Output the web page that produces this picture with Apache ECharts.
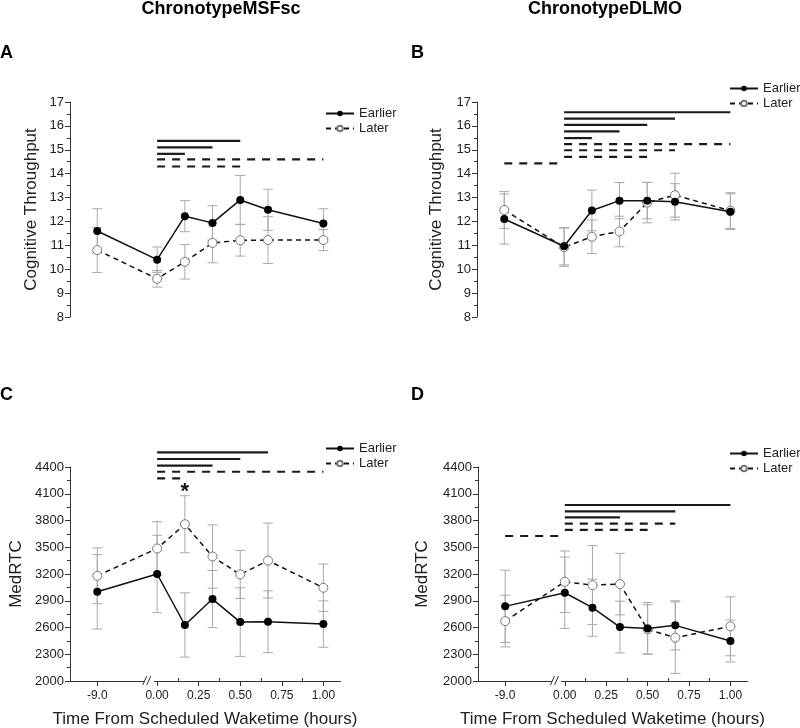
<!DOCTYPE html>
<html>
<head>
<meta charset="utf-8">
<script src="https://cdn.jsdelivr.net/npm/echarts@6.0.0/dist/echarts.min.js"></script>
<style>
html, body { margin: 0; padding: 0; background: #fff; }
#chart { width: 800px; height: 728px; }
</style>
</head>
<body>
<div id="chart"></div>
<script>
// time points, hours from scheduled waketime
const timePoints = [-9, 0, 0.167, 0.333, 0.5, 0.667, 1];
const xTickValues = [-9, 0, 0.25, 0.5, 0.75, 1];
const xMinorTickValues = [0.125, 0.375, 0.625, 0.875];

// A - cognitive throughput, ChronotypeMSFsc
const ctMsfEarly = [11.6, 10.4, 12.22, 11.94, 12.9, 12.49, 11.91];
const ctMsfEarlyErr = [0.93, 0.53, 0.65, 0.72, 1.02, 0.86, 0.62];
const ctMsfLate = [10.8, 9.6, 10.31, 11.1, 11.21, 11.22, 11.22];
const ctMsfLateErr = [0.94, 0.35, 0.72, 0.83, 0.66, 0.98, 0.44];
// B - cognitive throughput, ChronotypeDLMO
const ctDlmoEarly = [12.1, 10.96, 12.46, 12.87, 12.87, 12.82, 12.41];
const ctDlmoEarlyErr = [1.05, 0.78, 0.85, 0.76, 0.76, 0.76, 0.75];
const ctDlmoLate = [12.48, 10.92, 11.36, 11.58, 12.79, 13.1, 12.45];
const ctDlmoLateErr = [0.77, 0.8, 0.7, 0.64, 0.85, 0.92, 0.75];
// C - MedRTC, ChronotypeMSFsc
const rtMsfEarly = [3000, 3200, 2628, 2919, 2661, 2665, 2639];
const rtMsfEarlyErr = [417, 434, 360, 320, 385, 347, 260];
const rtMsfLate = [3180, 3486, 3758, 3396, 3195, 3351, 3046];
const rtMsfLateErr = [313, 300, 320, 355, 270, 420, 265];
// D - MedRTC, ChronotypeDLMO
const rtDlmoEarly = [2837, 2990, 2822, 2605, 2590, 2624, 2449];
const rtDlmoEarlyErr = [406, 400, 320, 290, 290, 275, 235];
const rtDlmoLate = [2672, 3113, 3075, 3087, 2579, 2486, 2613];
const rtDlmoLateErr = [290, 345, 443, 345, 275, 400, 330];

// significance bars: [from, to, level]
const sigCtMsfSolid = [[0, 0.5, 15.37], [0, 0.333, 15.1], [0, 0.167, 14.83]];
const sigCtMsfDashed = [[0, 1, 14.6], [0, 0.5, 14.3]];
const sigCtDlmoSolid = [[0, 1, 16.57], [0, 0.667, 16.3], [0, 0.5, 16.04], [0, 0.333, 15.77], [0, 0.167, 15.49]];
const sigCtDlmoDashed = [[0, 1, 15.24], [0, 0.667, 14.98], [0, 0.5, 14.7], [-9, 0, 14.43]];
const sigRtMsfSolid = [[0, 0.667, 4565], [0, 0.5, 4490], [0, 0.333, 4415]];
const sigRtMsfDashed = [[0, 1, 4347], [0, 0.167, 4273]];
const sigRtDlmoSolid = [[0, 1, 3974], [0, 0.667, 3903], [0, 0.333, 3836]];
const sigRtDlmoDashed = [[0, 0.667, 3764], [0, 0.5, 3694], [-9, 0, 3626]];
const starRtMsf = [[0.167, 4120]];

const FONT = 'Liberation Sans, Arial, sans-serif';
const brk = [{ start: -8.72, end: -0.02, gap: 0.06 }];

function errorBarItem(params, api) {
    const x = api.value(0);
    const top = api.coord([x, api.value(2)]);
    const bot = api.coord([x, api.value(1)]);
    const w = 5;
    const style = { stroke: '#a9a9a9', lineWidth: 1 };
    return {
        type: 'group',
        children: [
            { type: 'line', shape: { x1: top[0], y1: top[1], x2: bot[0], y2: bot[1] }, style },
            { type: 'line', shape: { x1: top[0] - w, y1: top[1], x2: top[0] + w, y2: top[1] }, style },
            { type: 'line', shape: { x1: bot[0] - w, y1: bot[1], x2: bot[0] + w, y2: bot[1] }, style }
        ]
    };
}

function sigBarItem(dash) {
    return function (params, api) {
        const a = api.coord([api.value(0), api.value(2)]);
        const b = api.coord([api.value(1), api.value(2)]);
        return {
            type: 'line',
            shape: { x1: a[0], y1: a[1], x2: b[0], y2: b[1] },
            style: { stroke: '#1a1a1a', lineWidth: 2.2, lineDash: dash }
        };
    };
}

function breakMarkItem(params, api) {
    const a = api.coord([brk[0].start, api.value(1)]);
    const b = api.coord([brk[0].end, api.value(1)]);
    const cx = (a[0] + b[0]) / 2, cy = a[1];
    const style = { stroke: '#333', lineWidth: 1 };
    return {
        type: 'group',
        children: [
            { type: 'rect', shape: { x: cx - 4, y: cy - 1, width: 7, height: 2 }, style: { fill: '#fff' } },
            { type: 'line', shape: { x1: cx - 6, y1: cy + 4, x2: cx - 2, y2: cy - 5 }, style },
            { type: 'line', shape: { x1: cx - 2, y1: cy + 4, x2: cx + 2, y2: cy - 5 }, style }
        ]
    };
}

function starItem(params, api) {
    const p = api.coord([api.value(0), api.value(1)]);
    return {
        type: 'text',
        x: p[0], y: p[1],
        style: { text: '*', textAlign: 'center', textVerticalAlign: 'middle', font: 'bold 22px ' + FONT, fill: '#111' }
    };
}

function panelSeries(i, early, earlyErr, late, lateErr, solid, dashed) {
    const ax = { xAxisIndex: i, yAxisIndex: i };
    return [
        Object.assign({
            type: 'custom', name: 'errEarly' + i, renderItem: errorBarItem, z: 2,
            encode: { x: 0, y: [1, 2] },
            data: timePoints.map((x, k) => [x, early[k] - earlyErr[k], early[k] + earlyErr[k]])
        }, ax),
        Object.assign({
            type: 'custom', name: 'errLate' + i, renderItem: errorBarItem, z: 2,
            encode: { x: 0, y: [1, 2] },
            data: timePoints.map((x, k) => [x, late[k] - lateErr[k], late[k] + lateErr[k]])
        }, ax),
        Object.assign({
            type: 'custom', name: 'sigSolid' + i, renderItem: sigBarItem(null), z: 3,
            encode: { x: [0, 1], y: 2 }, data: solid
        }, ax),
        Object.assign({
            type: 'custom', name: 'sigDashed' + i, renderItem: sigBarItem([8, 7]), z: 3,
            encode: { x: [0, 1], y: 2 }, data: dashed
        }, ax),
        Object.assign({
            type: 'line', name: 'Later', z: 4,
            data: timePoints.map((x, k) => [x, late[k]]),
            symbol: 'circle', symbolSize: 9,
            itemStyle: { color: '#fff', borderColor: '#777', borderWidth: 1 },
            lineStyle: { color: '#111', width: 1.5, type: [5, 4] }
        }, ax),
        Object.assign({
            type: 'line', name: 'Earlier', z: 5,
            data: timePoints.map((x, k) => [x, early[k]]),
            symbol: 'circle', symbolSize: 8,
            itemStyle: { color: '#000' },
            lineStyle: { color: '#111', width: 1.5 }
        }, ax)
    ];
}

function xAxisFor(i, show) {
    return {
        gridIndex: i, type: 'value', position: 'bottom', min: -9.164, max: 1.1,
        breaks: brk, breakArea: { show: false },
        axisLine: { show: show, onZero: false, lineStyle: { color: '#333' } },
        axisTick: { show: show, customValues: xTickValues, length: 5, lineStyle: { color: '#333' } },
        axisLabel: {
            show: show, customValues: xTickValues, color: '#222', fontSize: 12, margin: 9,
            formatter: v => (v === -9 ? '-9.0' : v.toFixed(2))
        },
        splitLine: { show: false },
        name: show ? 'Time From Scheduled Waketime (hours)' : '',
        nameLocation: 'middle', nameGap: 30,
        nameTextStyle: { fontSize: 17, color: '#222' }
    };
}

// second x axis only for the small in-between ticks
function xMinorAxisFor(i) {
    return {
        gridIndex: i, type: 'value', position: 'bottom', min: -9.164, max: 1.1,
        breaks: brk, breakArea: { show: false },
        axisLine: { show: false, onZero: false },
        axisTick: { show: true, inside: true, customValues: xMinorTickValues, length: 3, lineStyle: { color: '#333' } },
        axisLabel: { show: false },
        splitLine: { show: false }
    };
}

function yAxisFor(i, min, max, interval, name, nameGap) {
    return {
        gridIndex: i, type: 'value', min, max, interval,
        name, nameLocation: 'middle', nameGap,
        nameTextStyle: { fontSize: 17, color: '#222' },
        axisLine: { show: true, onZero: false, lineStyle: { color: '#333' } },
        axisTick: { show: true, length: 5, lineStyle: { color: '#333' } },
        minorTick: { show: true, splitNumber: 2, length: 3, lineStyle: { color: '#333' } },
        axisLabel: { color: '#222', fontSize: 13, margin: 6, formatter: v => String(v) },
        splitLine: { show: false }
    };
}

function legendFor(left, top) {
    return {
        data: ['Earlier', 'Later'], left, top, orient: 'vertical',
        itemWidth: 28, itemHeight: 7, itemGap: 2, selectedMode: false,
        textStyle: { fontSize: 13, color: '#222' }
    };
}

function label(text, x, y, size, align) {
    return {
        type: 'text', x, y,
        style: { text, font: 'bold ' + size + 'px ' + FONT, fill: '#000', textAlign: align || 'left', textVerticalAlign: 'top' }
    };
}

const chart = echarts.init(document.getElementById('chart'));

const series = [].concat(
    panelSeries(0, ctMsfEarly, ctMsfEarlyErr, ctMsfLate, ctMsfLateErr, sigCtMsfSolid, sigCtMsfDashed),
    panelSeries(1, ctDlmoEarly, ctDlmoEarlyErr, ctDlmoLate, ctDlmoLateErr, sigCtDlmoSolid, sigCtDlmoDashed),
    panelSeries(2, rtMsfEarly, rtMsfEarlyErr, rtMsfLate, rtMsfLateErr, sigRtMsfSolid, sigRtMsfDashed),
    panelSeries(3, rtDlmoEarly, rtDlmoEarlyErr, rtDlmoLate, rtDlmoLateErr, sigRtDlmoSolid, sigRtDlmoDashed),
    [
        { type: 'custom', name: 'star', xAxisIndex: 2, yAxisIndex: 2, renderItem: starItem, z: 6, data: starRtMsf },
        { type: 'custom', name: 'breakC', xAxisIndex: 2, yAxisIndex: 2, renderItem: breakMarkItem, z: 6, data: [[0, 2000]] },
        { type: 'custom', name: 'breakD', xAxisIndex: 3, yAxisIndex: 3, renderItem: breakMarkItem, z: 6, data: [[0, 2000]] }
    ]
);

const option = {
    animation: false,
    backgroundColor: '#fff',
    textStyle: { fontFamily: FONT },
    graphic: [
        label('ChronotypeMSFsc', 221, 0, 18, 'center'),
        label('ChronotypeDLMO', 605, 0, 18, 'center'),
        label('A', 0, 44, 18),
        label('B', 411, 44, 18),
        label('C', 0, 386, 18),
        label('D', 411, 386, 18)
    ],
    grid: [
        { left: 70, top: 102, width: 270, height: 215, outerBoundsMode: 'none' },
        { left: 477, top: 102, width: 270, height: 215, outerBoundsMode: 'none' },
        { left: 70, top: 467, width: 270, height: 214, outerBoundsMode: 'none' },
        { left: 478, top: 467, width: 269, height: 214, outerBoundsMode: 'none' }
    ],
    legend: [
        legendFor(320, 102),
        legendFor(724, 77),
        legendFor(320, 437),
        legendFor(724, 442)
    ],
    xAxis: [
        xAxisFor(0, false), xAxisFor(1, false), xAxisFor(2, true), xAxisFor(3, true),
        xMinorAxisFor(2), xMinorAxisFor(3)
    ],
    yAxis: [
        yAxisFor(0, 8, 17, 1, 'Cognitive Throughput', 30),
        yAxisFor(1, 8, 17, 1, 'Cognitive Throughput', 32),
        yAxisFor(2, 2000, 4400, 300, 'MedRTC', 45),
        yAxisFor(3, 2000, 4400, 300, 'MedRTC', 47)
    ],
    series: series
};

chart.setOption(option);
</script>
</body>
</html>
